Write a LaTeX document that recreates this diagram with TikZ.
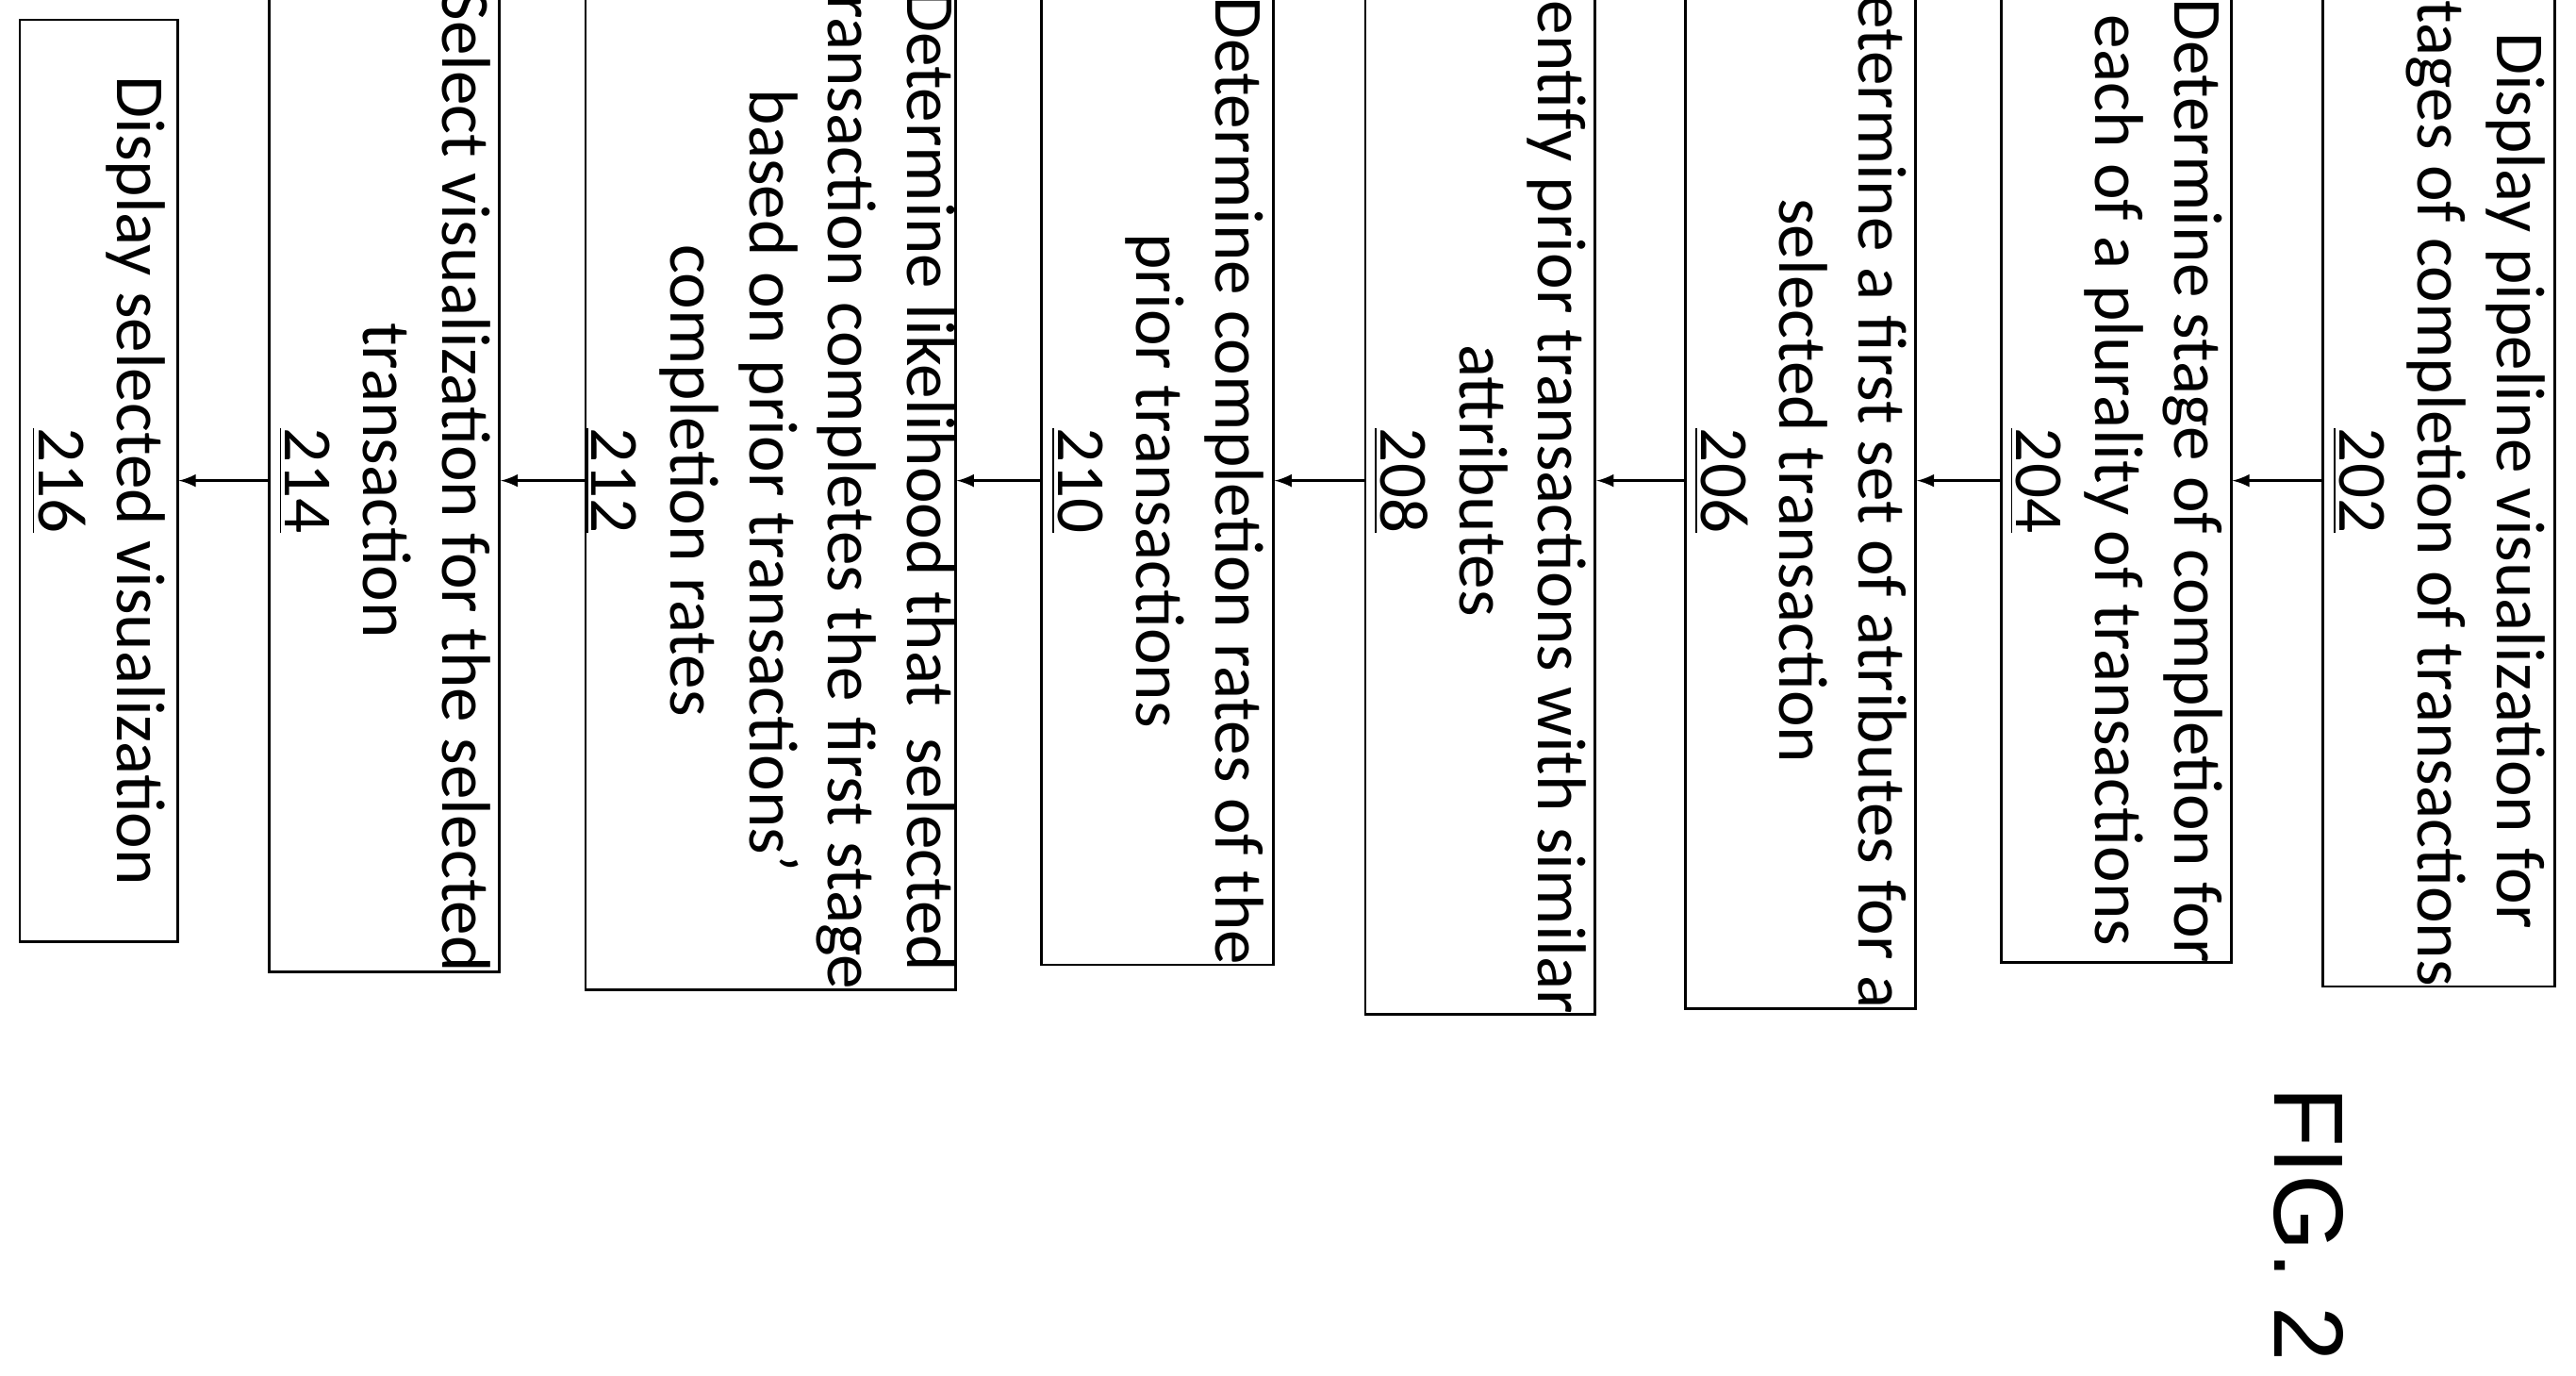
\documentclass[tikz,border=0pt]{standalone}
\usepackage{fontspec}
\newfontfamily\boxfont{Carlito}
\newfontfamily\figfont{Liberation Sans}
\tikzset{
  flowbox/.style={draw, thick, rotate=-90, minimum width=280.5pt,
    align=center, inner sep=0pt, font=\boxfont\fontsize{21}{24}\selectfont},
  arr/.style={thick, -latex}
}
\begin{document}
\begin{tikzpicture}[x=0.5pt,y=0.5pt]
    \useasboundingbox (0,0) rectangle (1568,837);
    % Steps of the flow
    \node[flowbox, minimum height=70.5pt] (s202) at (1484.5,544.5) {Display pipeline visualization for\\stages of completion of transactions\\\underline{202}};
    \node[flowbox, minimum height=70pt] (s204) at (1288,544.5) {Determine stage of completion for\\each of a plurality of transactions\\\underline{204}};
    \node[flowbox, minimum height=70pt] (s206) at (1096,544.5) {Determine a first set of atributes for a\\selected transaction\\\underline{206}};
    \node[flowbox, minimum height=70pt] (s208) at (901,544.5) {Identify prior transactions with similar\\attributes\\\underline{208}};
    \node[flowbox, minimum height=70.5pt] (s210) at (704.5,544.5) {Determine completion rates of the\\prior transactions\\\underline{210}};
    \node[flowbox, minimum height=109pt] (s212) at (469,544.5) {Determine likelihood that~ selected\\transaction completes the first stage\\based on prior transactions’\\completion rates\\\underline{212}};
    \node[flowbox, minimum height=70pt] (s214) at (234,544.5) {Select visualization for the selected\\transaction\\\underline{214}};
    \node[flowbox, minimum height=48pt] (s216) at (60,544.5) {Display selected visualization\\\underline{216}};

    % Connectors
    \draw[arr] (s202.south) -- (s204.north);
    \draw[arr] (s204.south) -- (s206.north);
    \draw[arr] (s206.south) -- (s208.north);
    \draw[arr] (s208.south) -- (s210.north);
    \draw[arr] (s210.south) -- (s212.north);
    \draw[arr] (s212.south) -- (s214.north);
    \draw[arr] (s214.south) -- (s216.north);

    % Figure label
    \node[rotate=-90, font=\figfont\fontsize{30}{36}\selectfont] (fig) at (1405,92) {FIG. 2};
\end{tikzpicture}
\end{document}
